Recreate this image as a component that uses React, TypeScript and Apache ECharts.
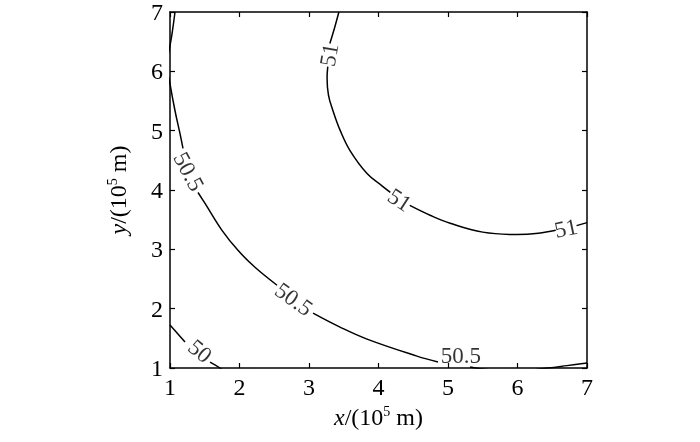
import React, { useEffect, useRef } from "react";
import * as echarts from "echarts";

// Axis ticks
const xTicks = [1, 2, 3, 4, 5, 6, 7];
const yTicks = [1, 2, 3, 4, 5, 6, 7];

// Contour level 51 (segments between labels)
const c51a = [[3.43, 7.0], [3.36, 6.7], [3.30, 6.47]];
const c51b = [[3.27, 6.08], [3.26, 5.89], [3.28, 5.6], [3.345, 5.336], [3.45, 5.0], [3.59, 4.664], [3.835, 4.277], [4.05, 4.07], [4.17, 3.96]];
const c51c = [[4.45, 3.74], [4.75, 3.57], [5.03, 3.44], [5.5, 3.29], [5.99, 3.25], [6.3, 3.27], [6.55, 3.32]];
const c51d = [[6.85, 3.4], [7.0, 3.45]];

// Contour level 50.5
const c505a = [[1.072, 7.0], [1.029, 6.63], [1.0, 6.43], [0.957, 6.11], [1.0, 5.79], [1.072, 5.336], [1.144, 4.95], [1.187, 4.7]];
const c505b = [[1.403, 3.958], [1.504, 3.773], [1.748, 3.319], [1.978, 2.983], [2.223, 2.697], [2.54, 2.395]];
const c505c = [[3.058, 1.924], [3.446, 1.689], [3.835, 1.487], [4.554, 1.2], [4.856, 1.1]];
const c505d = [[5.317, 1.017], [5.6, 0.97], [6.0, 0.95], [6.44, 1.0], [6.712, 1.04], [7.0, 1.084]];

// Contour level 50
const c50a = [[1.0, 1.723], [1.216, 1.437]];
const c50b = [[1.576, 1.1], [1.719, 1.0], [1.79, 0.93]];

// Contour labels: [x, y, text, rotation]
const contourLabels: [number, number, string, number][] = [
  [3.288, 6.277, "51", 80],
  [4.309, 3.84, "51", -33],
  [6.698, 3.353, "51", 12],
  [1.27, 4.311, "50.5", -62],
  [2.784, 2.16, "50.5", -36],
  [5.187, 1.218, "50.5", 0],
  [1.432, 1.286, "50", -40],
];

const FONT = "Times New Roman, Liberation Serif, serif";

export default function App() {
  const ref = useRef<HTMLDivElement>(null);
  useEffect(() => {
    if (!ref.current) return;
    const chart = echarts.init(ref.current, undefined, { renderer: "svg" });
    const segs = [c51a, c51b, c51c, c51d, c505a, c505b, c505c, c505d, c50a, c50b];
    const lineSeries = segs.map((d) => ({
      type: "line",
      data: d,
      smooth: 0.4,
      symbol: "none",
      clip: true,
      lineStyle: { color: "#000", width: 1.5 },
      xAxisIndex: 0,
      yAxisIndex: 0,
      silent: true,
    }));
    const axisCommon = {
      type: "value",
      min: 1,
      max: 7,
      interval: 1,
      splitLine: { show: false },
      axisLine: { show: true, onZero: false, lineStyle: { color: "#000", width: 1.5 } },
      axisTick: { show: true, inside: true, length: 5, lineStyle: { color: "#000", width: 1.2 } },
    };
    const nameStyle = {
      fontFamily: FONT,
      fontSize: 24,
      color: "#000",
      rich: {
        i: { fontStyle: "italic", fontFamily: FONT, fontSize: 24, color: "#000" },
        n: { fontFamily: FONT, fontSize: 24, color: "#000" },
        s: { fontFamily: FONT, fontSize: 14, color: "#000", padding: [0, 0, 11, 0] },
      },
    };
    chart.setOption({
      animation: false,
      textStyle: { fontFamily: FONT },
      grid: { left: 170, top: 11, width: 417, height: 357, show: false },
      xAxis: [
        {
          ...axisCommon,
          position: "bottom",
          axisLabel: { fontFamily: FONT, fontSize: 24, color: "#000", margin: 7, formatter: (v: number) => (xTicks.includes(v) ? String(v) : "") },
          name: "{i|x}{n|/(10}{s|5}{n| m)}",
          nameLocation: "middle",
          nameGap: 36,
          nameTextStyle: nameStyle,
        },
        { ...axisCommon, position: "top", axisLabel: { show: false } },
      ],
      yAxis: [
        {
          ...axisCommon,
          position: "left",
          axisLabel: { fontFamily: FONT, fontSize: 24, color: "#000", margin: 7, formatter: (v: number) => (yTicks.includes(v) ? String(v) : "") },
          name: "{i|y}{n|/(10}{s|5}{n| m)}",
          nameLocation: "middle",
          nameGap: 40,
          nameTextStyle: nameStyle,
        },
        { ...axisCommon, position: "right", axisLabel: { show: false } },
      ],
      series: [
        ...lineSeries,
        {
          type: "scatter",
          symbolSize: 0,
          silent: true,
          itemStyle: { color: "#000" },
          data: contourLabels.map(([x, y, t, r]) => ({
            value: [x, y],
            label: {
              show: true,
              position: "inside",
              formatter: t,
              rotate: r,
              fontFamily: FONT,
              fontSize: 23,
              color: "#000",
              textBorderWidth: 0,
              textBorderColor: "transparent",
            },
          })),
        },
      ],
    });
    return () => chart.dispose();
  }, []);
  return <div ref={ref} style={{ position: "fixed", left: 0, top: 0, width: 700, height: 442 }} />;
}
